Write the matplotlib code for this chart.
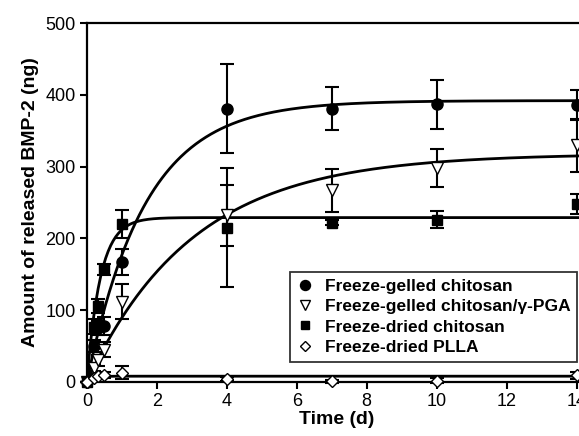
import numpy as np
import matplotlib
matplotlib.use("Agg")
import matplotlib.pyplot as plt
from matplotlib.lines import Line2D

plt.rcParams['font.family'] = ['Liberation Sans', 'DejaVu Sans']

# sampling times (d)
time = [0, 0.2, 0.33, 0.5, 1, 4, 7, 10, 14]

# released BMP-2 (ng) and error bars
gelled_chitosan = [0, 50, 75, 78, 167, 381, 381, 387, 386]
gelled_chitosan_err = [0, 8, 10, 12, 18, 62, 30, 34, 21]
gelled_pga = [0, 20, 30, 45, 112, 232, 267, 298, 330]
gelled_pga_err = [0, 5, 8, 10, 24, 42, 30, 27, 37]
dried_chitosan = [0, 77, 106, 157, 220, 215, 222, 226, 248]
dried_chitosan_err = [0, 10, 10, 8, 20, 83, 4, 12, 14]
dried_plla = [0, 6, 8, 10, 13, 4, 1, 2, 9]
dried_plla_err = [0, 2, 3, 4, 9, 3, 2, 3, 5]

# first-order fit parameters: y = A * (1 - exp(-k t))
fit_A = [392, 318, 229, 8]
fit_k = [0.6, 0.33, 2.6, 6.0]

labels = ['Freeze-gelled chitosan', 'Freeze-gelled chitosan/\u03b3-PGA',
          'Freeze-dried chitosan', 'Freeze-dried PLLA']
markers = ['o', 'v', 's', 'D']
faces = ['black', 'white', 'black', 'white']
sizes = [8, 8, 7, 6]

fig = plt.figure(figsize=(5.79, 4.36), dpi=100)
ax = fig.add_axes([0.150, 0.124, 0.864, 0.823])

series = [(gelled_chitosan, gelled_chitosan_err), (gelled_pga, gelled_pga_err),
          (dried_chitosan, dried_chitosan_err), (dried_plla, dried_plla_err)]

tt = np.linspace(0, 14.3, 400)
for A, k in zip(fit_A, fit_k):
    ax.plot(tt, A * (1 - np.exp(-k * tt)), color='black', lw=2.0, zorder=2)

for (vals, err), m, fc, ms in zip(series, markers, faces, sizes):
    ax.errorbar(time, vals, yerr=err, fmt='none', ecolor='black',
                elinewidth=1.5, capsize=5, capthick=1.5, zorder=3, clip_on=False)
    ax.plot(time, vals, linestyle='none', marker=m, ms=ms, mfc=fc,
            mec='black', mew=1.0, zorder=4, clip_on=False)

ax.set_xlim(0, 14.3)
ax.set_ylim(0, 500)
ax.set_xticks(range(0, 15, 2))
ax.set_yticks(range(0, 501, 100))
ax.spines['right'].set_visible(False)
for s in ['top', 'left', 'bottom']:
    ax.spines[s].set_linewidth(1.6)
ax.tick_params(direction='out', length=5, width=1.5, labelsize=13, pad=3)

ax.set_xlabel('Time (d)', fontsize=14, fontweight='bold', labelpad=1)
ax.set_ylabel('Amount of released BMP-2 (ng)', fontsize=14, fontweight='bold', labelpad=5)

handles = [Line2D([], [], linestyle='none', marker=m, ms=ms * 0.9, mfc=fc,
                  mec='black', mew=1.0) for m, fc, ms in zip(markers, faces, sizes)]
leg = ax.legend(handles, labels, loc='lower right', bbox_to_anchor=(0.98, 0.056),
                prop={'weight': 'bold', 'size': 12.5}, frameon=True,
                fancybox=False, edgecolor='black', handlelength=1.0,
                handletextpad=0.6, borderpad=0.4, labelspacing=0.3,
                borderaxespad=0)
leg.get_frame().set_linewidth(1.3)

fig.savefig('out.png', dpi=100)
